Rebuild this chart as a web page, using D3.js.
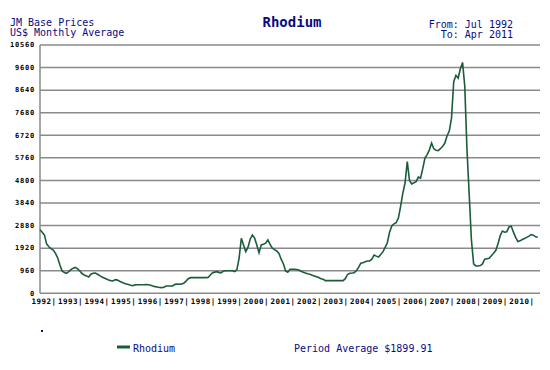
<!DOCTYPE html>
<html><head><meta charset="utf-8">
<script src="https://cdn.jsdelivr.net/npm/d3@7"></script>
<style>
html,body{margin:0;padding:0;background:#fff;}
svg{display:block;}
text{font-family:"DejaVu Sans Mono",monospace;}
</style></head>
<body>
<script>
// Monthly averages, Jul 1992 .. Apr 2011 (US$/oz)
const startLabel = "Jul 1992";
const endLabel = "Apr 2011";
const v1992 = [2700,2600,2480,2100,1980,1900];
const v1993 = [1840,1700,1500,1200,950,880,850,920,1010,1070,1100,1040];
const v1994 = [950,840,780,740,690,810,850,860,810,750,690,650];
const v1995 = [610,570,540,525,580,560,510,470,430,400,370,340];
const v1996 = [325,360,365,365,365,365,370,365,340,310,285,270];
const v1997 = [250,240,260,310,310,310,310,380,390,385,400,430];
const v1998 = [520,620,665,665,665,665,665,665,665,665,670,780];
const v1999 = [875,900,920,880,880,950,962,962,962,960,920,1010];
const v2000 = [1500,2340,2050,1770,1950,2300,2480,2350,2050,1720,2060,2090];
const v2001 = [2130,2270,2080,1920,1860,1800,1700,1450,1260,950,900,1022];
const v2002 = [1020,1020,1010,990,940,894,860,830,809,770,740,707];
const v2003 = [670,620,596,540,537,537,537,537,537,537,537,537];
const v2004 = [620,800,850,860,877,960,1100,1280,1300,1340,1375,1375];
const v2005 = [1450,1630,1580,1540,1650,1760,1950,2150,2600,2866,2950,3006];
const v2006 = [3200,3700,4260,4690,5600,4800,4650,4700,4750,4940,4900,5300];
const v2007 = [5750,5900,6100,6390,6150,6080,6070,6150,6250,6390,6700,6900];
const v2008 = [7450,9000,9270,9150,9550,9820,8800,6100,4200,2270,1250,1163];
const v2009 = [1163,1180,1248,1448,1470,1490,1600,1703,1820,2100,2450,2650];
const v2010 = [2600,2620,2820,2850,2600,2380,2200,2230,2290,2330,2380,2430];
const v2011 = [2500,2470,2400,2380];
const values = [].concat(v1992,v1993,v1994,v1995,v1996,v1997,v1998,v1999,v2000,
  v2001,v2002,v2003,v2004,v2005,v2006,v2007,v2008,v2009,v2010,v2011);

const yTicks = [0,960,1920,2880,3840,4800,5760,6720,7680,8640,9600,10560];
const yearLabels = ["1992","1993","1994","1995","1996","1997","1998","1999","2000",
  "2001","2002","2003","2004","2005","2006","2007","2008","2009","2010"];
const seriesName = "Rhodium";
const periodAverage = "$1899.91";

const W = 550, H = 370;
const svg = d3.select("body").append("svg").attr("width", W).attr("height", H);
const navy = "#0a0a80", green = "#1b5c3a", grid = "#8a8a8a";

const x = d3.scaleLinear().domain([0, 226]).range([40, 540]);
const y = d3.scaleLinear().domain([0, 10560]).range([293.3, 45]);

// gridlines
svg.append("g").selectAll("line").data(yTicks).join("line")
  .attr("x1", 40).attr("x2", 540)
  .attr("y1", d => y(d)).attr("y2", d => y(d))
  .attr("stroke", grid).attr("stroke-width", 1.5);
svg.append("line").attr("x1", 40).attr("x2", 40).attr("y1", y(10560)).attr("y2", y(0))
  .attr("stroke", grid).attr("stroke-width", 1.5);

// y axis labels
const yAxis = d3.axisLeft(y).tickValues(yTicks).tickSize(0).tickPadding(0)
  .tickFormat(d3.format("d"));
const gy = svg.append("g").attr("transform", "translate(35,0)").call(yAxis);
gy.select(".domain").remove();
gy.selectAll("text").attr("font-family", "DejaVu Sans Mono").attr("font-weight", "bold")
  .attr("font-size", 7).attr("fill", "#000").attr("letter-spacing", 0.8).attr("dy", "0.25em");

// x axis year labels (centred on July) and separators (January)
const xAxis = d3.axisBottom(x).tickValues(yearLabels.map((_, i) => i * 12)).tickSize(0)
  .tickPadding(0).tickFormat((d, i) => yearLabels[i]);
const gx = svg.append("g").attr("transform", "translate(1,299)").call(xAxis);
gx.select(".domain").remove();
gx.selectAll("text").attr("font-family", "DejaVu Sans Mono").attr("font-weight", "bold")
  .attr("font-size", 7.5).attr("fill", "#000").attr("letter-spacing", 0.5);
const sepAxis = d3.axisBottom(x).tickValues(yearLabels.map((_, i) => i * 12 + 6)).tickSize(0)
  .tickPadding(0).tickFormat(() => "|");
const gs = svg.append("g").attr("transform", "translate(0,299)").call(sepAxis);
gs.select(".domain").remove();
gs.selectAll("text").attr("font-family", "DejaVu Sans Mono").attr("font-weight", "bold")
  .attr("font-size", 7.5).attr("fill", "#000");

// data line
const line = d3.line().x((d, i) => x(i)).y(d => y(d));
svg.append("path").datum(values).attr("d", line).attr("fill", "none")
  .attr("stroke", green).attr("stroke-width", 1.6).attr("stroke-linejoin", "miter");

// headers
svg.append("text").attr("x", 10).attr("y", 26).attr("font-size", 10).attr("fill", navy)
  .text("JM Base Prices");
svg.append("text").attr("x", 10).attr("y", 36).attr("font-size", 10).attr("fill", navy)
  .text("US$ Monthly Average");
svg.append("text").attr("x", 292).attr("y", 27).attr("text-anchor", "middle")
  .attr("font-size", 14).attr("font-weight", "bold").attr("fill", navy).text(seriesName);
svg.append("text").attr("x", 513).attr("y", 28).attr("text-anchor", "end")
  .attr("font-size", 10).attr("fill", navy).text("From: " + startLabel);
svg.append("text").attr("x", 513).attr("y", 37.5).attr("text-anchor", "end")
  .attr("font-size", 10).attr("fill", navy).text("To: " + endLabel);

// legend
svg.append("rect").attr("x", 41).attr("y", 330).attr("width", 2).attr("height", 2).attr("fill", navy);
svg.append("line").attr("x1", 117).attr("x2", 130).attr("y1", 347).attr("y2", 347)
  .attr("stroke", green).attr("stroke-width", 3);
svg.append("text").attr("x", 133).attr("y", 352).attr("font-size", 10).attr("fill", navy)
  .text(seriesName);
svg.append("text").attr("x", 294).attr("y", 352).attr("font-size", 10).attr("fill", navy)
  .text("Period Average " + periodAverage);
</script>
</body></html>
